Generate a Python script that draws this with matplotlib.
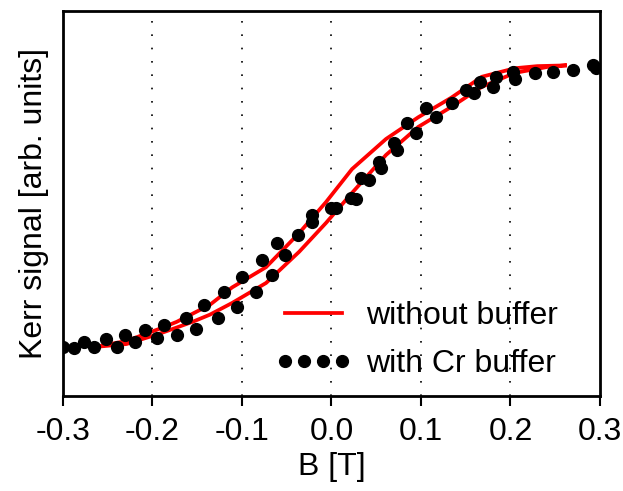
import matplotlib
matplotlib.use("Agg")
import matplotlib.pyplot as plt

plt.rcParams['font.family'] = ['Liberation Sans', 'DejaVu Sans']
plt.rcParams['axes.unicode_minus'] = False

# measured Cr-buffer sample (field in T, normalised Kerr signal)
b_cr = [-0.300, -0.288, -0.276, -0.265, -0.252, -0.240, -0.231, -0.219, -0.208,
        -0.195, -0.187, -0.173, -0.163, -0.151, -0.142, -0.127, -0.120, -0.106,
        -0.100, -0.084, -0.078, -0.066, -0.061, -0.052, -0.037, -0.022, -0.022,
        -0.001, 0.005, 0.022, 0.028, 0.033, 0.042, 0.053, 0.055, 0.070, 0.073,
        0.084, 0.095, 0.106, 0.117, 0.135, 0.150, 0.159, 0.166, 0.181, 0.184,
        0.203, 0.205, 0.227, 0.248, 0.270, 0.292, 0.296]
kerr_cr = [-1.00, -1.007, -0.964, -1.00, -0.943, -1.00, -0.914, -0.964, -0.879,
           -0.936, -0.843, -0.914, -0.793, -0.871, -0.700, -0.793, -0.607, -0.714,
           -0.500, -0.607, -0.379, -0.486, -0.257, -0.343, -0.200, -0.057, -0.107,
           -0.007, -0.007, 0.064, 0.057, 0.207, 0.193, 0.321, 0.279, 0.457, 0.407,
           0.600, 0.529, 0.707, 0.643, 0.743, 0.836, 0.814, 0.893, 0.857, 0.929,
           0.964, 0.914, 0.957, 0.964, 0.979, 1.014, 0.993]

# loop without buffer: descending branch (upper) and ascending branch (lower)
b_up = [0.261, 0.230, 0.205, 0.168, 0.134, 0.097, 0.061, 0.023, -0.006, -0.036,
        -0.073, -0.111, -0.136, -0.173, -0.192, -0.229, -0.2645]
kerr_up = [1.01, 1.005, 0.99, 0.929, 0.780, 0.640, 0.485, 0.270, 0.035, -0.186,
           -0.430, -0.575, -0.700, -0.821, -0.870, -0.957, -1.0]
b_low = [-0.2645, -0.229, -0.192, -0.155, -0.136, -0.111, -0.073, -0.036,
         -0.006, 0.023, 0.061, 0.097, 0.134, 0.168, 0.205, 0.242, 0.261]
kerr_low = [-1.0, -0.979, -0.905, -0.820, -0.770, -0.686, -0.543, -0.320,
            -0.114, 0.100, 0.371, 0.571, 0.714, 0.857, 0.957, 1.0, 1.01]

xticks = [-0.3, -0.2, -0.1, 0.0, 0.1, 0.2, 0.3]
xticklabels = ['-0.3', '-0.2', '-0.1', '0.0', '0.1', '0.2', '0.3']

fig = plt.figure(figsize=(6.23, 4.91), dpi=100)
ax = fig.add_axes([0.101, 0.1935, 0.862, 0.7845])

ax.plot(b_up + b_low, kerr_up + kerr_low, color='#ff0000', lw=2.7,
        label='without buffer', zorder=2)
ax.plot(b_cr, kerr_cr, 'o', color='black', ms=8.5, ls='none',
        label='with Cr buffer', zorder=3)

ax.set_xlim(-0.3, 0.3)
ax.set_ylim(-1.35, 1.4)
ax.set_xticks(xticks)
ax.set_xticklabels(xticklabels)
ax.set_yticks([])
for x in xticks[1:-1]:
    ax.axvline(x, color='black', lw=1.2, ls=(0, (1, 7)), zorder=1)

for s in ax.spines.values():
    s.set_linewidth(2)
ax.tick_params(axis='x', direction='out', length=7, width=1.5, labelsize=23, pad=8)

ax.set_xlabel('B [T]', fontsize=23, labelpad=4)
ax.set_ylabel('Kerr signal [arb. units]', fontsize=23, labelpad=10)

ax.legend(loc='lower left', bbox_to_anchor=(0.4414, 0.228), bbox_transform=fig.transFigure,
          frameon=False, fontsize=23, handlelength=2.4, handletextpad=0.45,
          labelspacing=0.55, borderpad=0, borderaxespad=0, numpoints=4)

fig.savefig('out.png', dpi=100)
